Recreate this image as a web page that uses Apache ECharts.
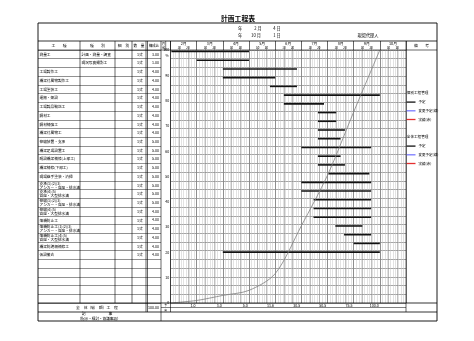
<!DOCTYPE html>
<html><head><meta charset="utf-8">
<script src="https://cdn.jsdelivr.net/npm/echarts@6/dist/echarts.min.js"></script>
<style>html,body{margin:0;padding:0;background:#fff}#c{width:474px;height:341px}</style>
</head><body><div id="c"></div>
<script>
// ---------- data ----------
const months = ['2月','3月','4月','5月','6月','7月','8月','9月','10月'];
const workTypes = ['測量工','','工場製作工','橋梁付属物製作工','工場塗装工','運搬・架設','工場製品輸送工','鋼材工','鋼材補強工','橋梁付属物工','伸縮装置・支承','橋梁足場設置工','既設橋梁補修(上部工)','橋梁補修(下部工)','現場継手塗装・清掃','支承(1)(2)(3)\nアンカー・沓座・排水溝','支承(4)(5)\n沓座・大型排水溝','伸縮(1)(2)(3)\nアンカー・沓座・排水溝','伸縮(4)(5)\n沓座・大型排水溝','落橋防止工','落橋防止工(1)(2)(3)\nアンカー・沓座・排水溝','落橋防止工(4)(5)\n沓座・大型排水溝','橋梁防護柵補修工','仮設撤去'];
const subTypes = ['計画・測量・調査','現況写真撮影工','','','','','','','','','','','','','','','','','','','','','',''];
const quantities = ['1式','1式','1式','1式','1式','1式','1式','1式','1式','1式','1式','1式','1式','1式','1式','1式','1式','1式','1式','1式','1式','1式','1式','1式'];
const shares = [3,1,4,4,4,4,4,4,4,4,5,5,5,5,5,5,5,5,4,4,4,4,4,4];
const planStart = ['2/2','3/1','4/1','4/1','5/25','6/11','6/11','7/20','7/20','7/20','7/20','7/1','7/20','7/20','8/2','7/1','7/1','7/15','7/15','7/15','8/10','8/20','9/1','4/1'];
const planEnd   = ['4/30','4/30','6/25','5/30','6/25','9/30','7/26','8/10','8/10','8/20','8/15','9/20','8/15','8/20','9/18','9/20','9/20','9/20','9/20','9/20','9/10','9/20','9/30','9/30'];
const cumPlan = [1.0, 3.0, 5.0, 11.6, 30.5, 50.5, 75.5, 100.0]; // at end of 2月..9月
const pctTicks = [0,10,20,30,40,50,60,70,80,90,100];
const legendItems = ['予定','変更予定(線)','実績(赤)'];
const legendTitles = ['個別工程管理','全体工程管理'];
const totalShare = '100.00';

// ---------- layout ----------
const L=38, R=437, T=23, HT=41, RT=50, PB=303, B1=312, B=321;
const cx = {c1:80, c2:115, c3:132, c4:146, c5:147.5, tr:161, ax:170.5, pr:406};
const NROWS = 29, DAYS = 30, FONT = '"Noto Sans CJK JP","Noto Sans",sans-serif';

const toDay = (s, isEnd) => { const [m,d] = s.split('/').map(Number); return (m-2)*DAYS + d - (isEnd?0:1); };
const bars = planStart.map((s,i)=>[toDay(s,false), toDay(planEnd[i],true), i]);
const curve = [[0,0]].concat(cumPlan.map((v,i)=>[(i+1)*DAYS, v]));
const pad = n => Array(NROWS - workTypes.length).fill(n);
const rowsWork = workTypes.concat(pad(''));
const rowsSub = subTypes.concat(pad(''));
const rowsQty = quantities.concat(pad(''));
const rowsShare = shares.map(v=>v.toFixed(2)).concat(pad(''));

const chart = echarts.init(document.getElementById('c'), null, {renderer:'canvas'});
const ln = (x1,y1,x2,y2,w,c) => ({type:'line', silent:true, z:50, shape:{x1,y1,x2,y2}, style:{stroke:c||'#000', lineWidth:w||0.6}});
const tx = (x,y,t,fs,align,extra) => ({type:'text', silent:true, z:60, x, y, style:Object.assign({text:t, fontSize:fs||4, fontFamily:FONT, fill:'#000', align:align||'center', verticalAlign:'middle'}, extra||{})});

const graphics = [
  tx(238,18.5,'計画工程表',6.8,'center',{fontWeight:'bold'}),
  {type:'rect', silent:true, z:50, shape:{x:L,y:T,width:R-L,height:B-T}, style:{fill:'none', stroke:'#000', lineWidth:0.9}},
  ln(L,HT,R,HT,0.8), ln(L,RT,R,RT,0.6), ln(L,PB,R,PB,0.8), ln(L,B1,R,B1,0.8),
  ln(cx.c1,HT,cx.c1,PB), ln(cx.c2,HT,cx.c2,PB), ln(cx.c3,HT,cx.c3,PB), ln(cx.c4,HT,cx.c4,B1), ln(cx.c5,HT,cx.c5,B1),
  ln(cx.tr,HT,cx.tr,B), ln(cx.ax,HT,cx.ax,B1), ln(cx.pr,HT,cx.pr,B1), ln(165.7,HT,165.7,RT,0.5),
  ln(cx.tr,307.5,cx.pr,307.5,0.5),
  tx(240,28,'年',4.2), tx(258,28,'2 月',4.2), tx(277,28,'4 日',4.2),
  tx(240,35,'年',4.2), tx(256,35,'10 月',4.2), tx(277,35,'1 日',4.2),
  tx(368,35,'現場代理人',4.2),
  tx(59,45.5,'工　　種',3.8), tx(97.5,45.5,'種　　別',3.8), tx(123.5,45.5,'細　別',3.8),
  tx(139,45.5,'数　量',3.6), tx(154,45.5,'構成比',3.4), tx(163.5,44,'月',3), tx(163.5,48,'旬',3),
  tx(421.5,45.5,'備　　考',3.8),
  tx(167,56,'%',3.4),
  tx(97,307.5,'全　体（総　額）工　程',3.8), tx(159,307.5,totalShare,3.6,'right'),
  tx(97,314,'記　　　　　　事',3.8), tx(99,318.5,'（指示・検討・協議事項）',3.6),
  tx(165.7,305.3,'予',2.8), tx(165.7,309.8,'実',2.8),
  tx(406.8,93,legendTitles[0],3.6,'left'), tx(406.8,137,legendTitles[1],3.6,'left')
];

const splitAx = (interval, color, width) => ({
  type:'value', gridIndex:0, min:0, max:months.length*DAYS, interval, position:'bottom',
  axisLine:{show:false}, axisTick:{show:false}, axisLabel:{show:false},
  splitLine:{show:true, lineStyle:{color, width}}
});
const catY = (data, opts) => Object.assign({
  type:'category', gridIndex:1, inverse:true, data, position:'left',
  axisLine:{show:false}, axisTick:{show:false}, splitLine:{show:false},
  axisLabel:{show:true, inside:true, interval:0, margin:1.5, fontSize:3.7, lineHeight:4, color:'#000', fontFamily:FONT}
}, opts);

const legendCfg = (top) => ({
  orient:'vertical', left:cx.pr+0.5, top, data:legendItems, icon:'rect', itemWidth:9, itemHeight:1.3,
  itemGap:3.7, selectedMode:false, padding:0,
  textStyle:{fontSize:3.5, lineHeight:5, color:'#000', fontFamily:FONT, padding:[0,0,0,-2]}
});

chart.setOption({
  animation:false,
  backgroundColor:'#fff',
  textStyle:{fontFamily:FONT},
  grid:[
    {left:cx.ax, top:RT, width:cx.pr-cx.ax, height:PB-RT, show:false, containLabel:false},
    {left:L, top:RT, width:cx.tr-L, height:PB-RT, show:false, containLabel:false}
  ],
  xAxis:[
    // 0: main axis (days), bottom labels = cumulative plan %
    {type:'value', gridIndex:0, min:0, max:months.length*DAYS, interval:DAYS, position:'bottom',
     axisLine:{show:false}, axisTick:{show:false},
     axisLabel:{show:true, margin:1.2, fontSize:3.6, color:'#000', align:'right', padding:[0,1.2,0,0], showMinLabel:true, showMaxLabel:true,
       formatter:v=>{const i=v/DAYS-1; return (i>=0 && i<cumPlan.length)? cumPlan[i].toFixed(1) : '';}},
     splitLine:{show:true, lineStyle:{color:'#222', width:0.7}}},
    splitAx(3,'#c4c4c4',0.5),
    splitAx(10,'#8a8a8a',0.55),
    // 3: months header
    {type:'category', gridIndex:0, data:months, position:'top',
     axisLine:{show:false}, axisTick:{show:true, length:9, lineStyle:{color:'#000', width:0.6}},
     axisLabel:{margin:5, fontSize:3.8, color:'#000', interval:0}},
    // 4: 10 / 20 header labels
    {type:'value', gridIndex:0, min:0, max:months.length*DAYS, interval:10, position:'top',
     axisLine:{show:false}, axisTick:{show:true, length:3.5, lineStyle:{color:'#777', width:0.5}},
     axisLabel:{margin:1, fontSize:2.9, color:'#000', formatter:v=>{const r=v%DAYS; return r===10?'10':(r===20?'20':'');}},
     splitLine:{show:false}},
    // 5: table grid dummy x
    {type:'value', gridIndex:1, min:0, max:1, show:false}
  ],
  yAxis:[
    // 0: percent
    {type:'value', gridIndex:0, min:0, max:100, interval:10, position:'left',
     axisLine:{show:false}, axisTick:{show:false}, splitLine:{show:false},
     axisLabel:{margin:1.2, fontSize:3.6, color:'#000', formatter:v=>pctTicks.includes(v)?String(v):''}},
    // 1: rows
    {type:'value', gridIndex:0, min:0, max:NROWS, interval:1, inverse:true, position:'left',
     axisLine:{show:false}, axisTick:{show:false}, axisLabel:{show:false},
     splitLine:{show:true, lineStyle:{color:'#5a5a5a', width:0.55}}},
    // 2..: table columns
    catY(rowsWork, {splitLine:{show:true, interval:0, lineStyle:{color:'#222', width:0.5}}}),
    catY(rowsSub, {offset:-(cx.c1-L)}),
    catY(rowsQty, {offset:-(cx.c3-L), axisLabel:{show:true, inside:true, interval:0, margin:5, fontSize:3.7, color:'#000', fontFamily:FONT}}),
    catY(rowsShare, {position:'right', axisLabel:{show:true, inside:true, interval:0, margin:2, fontSize:3.6, color:'#000', fontFamily:FONT}})
  ],
  legend:[legendCfg(99.6), legendCfg(143.6)],
  series:[
    {name:legendItems[0], type:'custom', xAxisIndex:0, yAxisIndex:1, data:bars, z:10,
     itemStyle:{color:'#111'}, encode:{x:[0,1], y:2},
     renderItem:(params, api)=>{
       const y = api.value(2) + 0.17;
       const s = api.coord([api.value(0), y]), e = api.coord([api.value(1), y]);
       return {type:'line', shape:{x1:s[0], y1:s[1], x2:e[0], y2:e[1]}, style:{stroke:'#111', lineWidth:1.6}};
     }},
    {name:legendItems[1], type:'line', xAxisIndex:0, yAxisIndex:0, data:[], itemStyle:{color:'#7a7aff'}, lineStyle:{color:'#7a7aff'}},
    {name:legendItems[2], type:'line', xAxisIndex:0, yAxisIndex:0, data:[], itemStyle:{color:'#e53030'}, lineStyle:{color:'#e53030'}},
    {name:'累計', type:'line', xAxisIndex:0, yAxisIndex:0, data:curve, smooth:0.3, showSymbol:false, symbol:'none', z:12,
     lineStyle:{color:'#808080', width:0.8}}
  ],
  graphic:graphics
});
</script></body></html>
